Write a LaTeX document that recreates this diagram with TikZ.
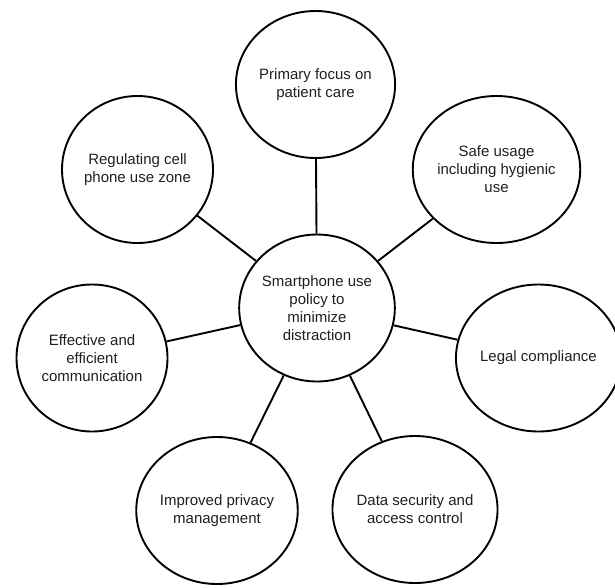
\documentclass[tikz,border=0pt]{standalone}
\usepackage{fontspec}
\setmainfont{Liberation Sans}
\usetikzlibrary{shapes.geometric}

\begin{document}
\begin{tikzpicture}[x=1pt,y=-1pt,
	every node/.style={font=\fontsize{15}{18}\selectfont,text=black!88,align=center},
	topic/.style={ellipse,draw=black,line width=1.9pt,inner sep=0pt,minimum width=151pt,minimum height=147pt}]
	\useasboundingbox (0,0) rectangle (615,587);

	\node[topic] (c_0) at (317,308)     {Smartphone use\\policy to\\minimize\\distraction};
	\node[topic] (c_1) at (315.5,84.5)  {Primary focus on\\patient care};
	\node[topic] (c_2) at (496.5,169.5) {Safe usage\\including hygienic\\use};
	\node[topic] (c_3) at (538.5,358)   {Legal compliance};
	\node[topic] (c_4) at (415,509.5)   {Data security and\\access control};
	\node[topic] (c_5) at (217,510.5)   {Improved privacy\\management};
	\node[topic] (c_6) at (92,358)      {Effective and\\efficient\\communication};
	\node[topic] (c_7) at (137.5,169.5) {Regulating cell\\phone use zone};

	\path[line width=1.9pt]
	(c_0) edge (c_1)
	(c_0) edge (c_2)
	(c_0) edge (c_3)
	(c_0) edge (c_4)
	(c_0) edge (c_5)
	(c_0) edge (c_6)
	(c_0) edge (c_7);
\end{tikzpicture}
\end{document}
